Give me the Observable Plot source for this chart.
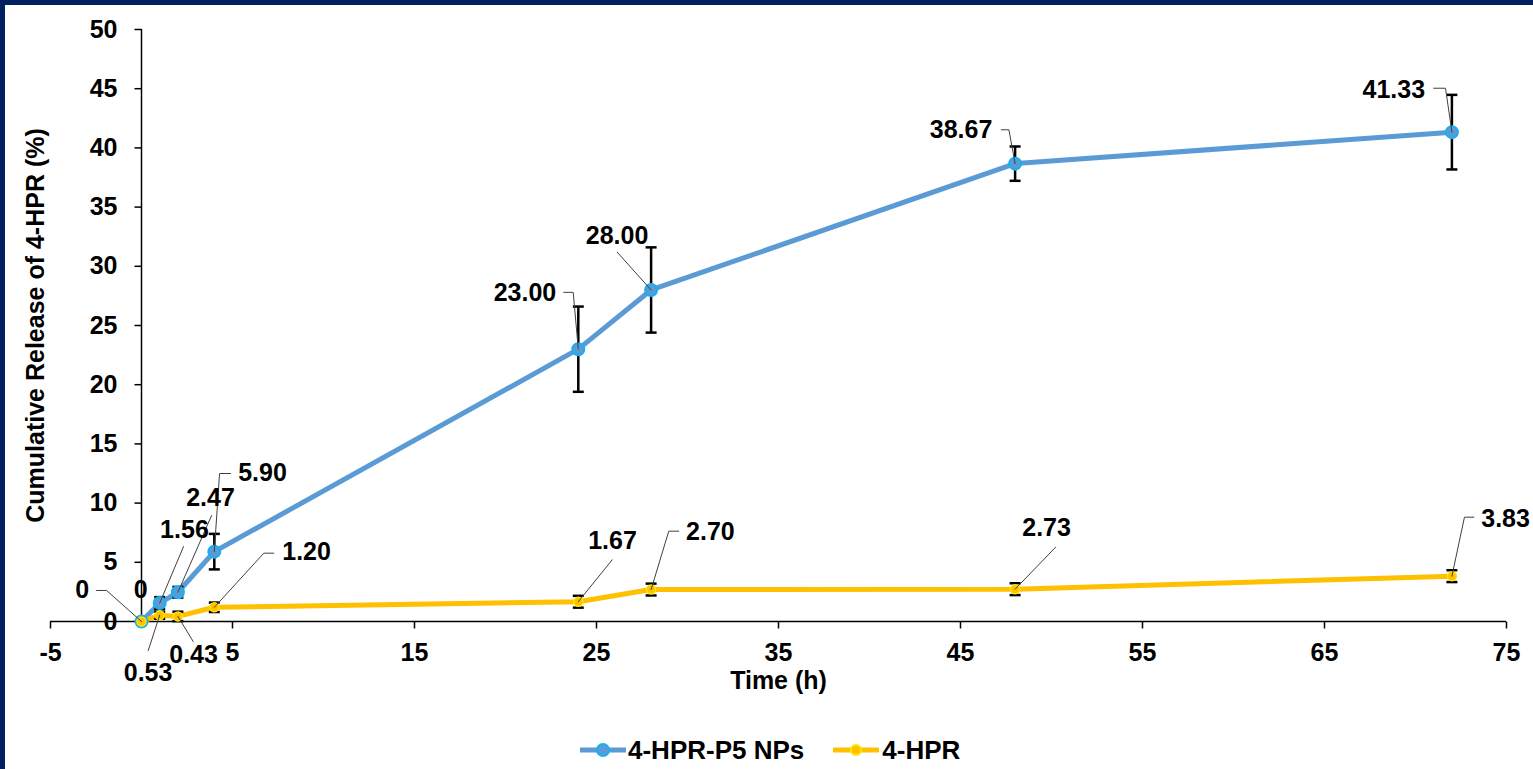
<!DOCTYPE html>
<html>
<head>
<meta charset="utf-8">
<script src="https://cdn.jsdelivr.net/npm/d3@7"></script>
<script src="https://cdn.jsdelivr.net/npm/@observablehq/plot@0.6"></script>
<style>
  html, body { margin: 0; padding: 0; background: #ffffff; }
  body { width: 1533px; height: 769px; overflow: hidden; position: relative;
         font-family: "Liberation Sans", Arial, sans-serif; }
  #chart { position: absolute; left: 0; top: 0; }
  .bt { position: absolute; left: 0; top: 0; width: 1533px; height: 5px; background: #002060; z-index: 5; }
  .bl { position: absolute; left: 0; top: 0; width: 5px; height: 769px; background: #002060; z-index: 5; }
  #legend { position: absolute; left: 580px; top: 735px; height: 30px; display: flex; align-items: center;
            font: bold 26px "Liberation Sans", Arial, sans-serif; color: #000; white-space: nowrap; }
  #legend .item { display: flex; align-items: center; }
  #legend svg { display: block; }
</style>
</head>
<body>
<div id="chart"></div>
<div id="legend"></div>
<div class="bt"></div>
<div class="bl"></div>
<script>
// ---- data ----
const times = [0, 1, 2, 4, 24, 28, 48, 72];
const seriesNames = ["4-HPR-P5 NPs", "4-HPR"];
const npValues = [0, 1.56, 2.47, 5.90, 23.00, 28.00, 38.67, 41.33];
const npErrors = [0, 0.5, 0.45, 1.5, 3.6, 3.6, 1.45, 3.15];
const freeValues = [0, 0.53, 0.43, 1.20, 1.67, 2.70, 2.73, 3.83];
const freeErrors = [0, 0.3, 0.4, 0.4, 0.5, 0.5, 0.5, 0.5];
const npLabels = ["0", "1.56", "2.47", "5.90", "23.00", "28.00", "38.67", "41.33"];
const freeLabels = ["0", "0.53", "0.43", "1.20", "1.67", "2.70", "2.73", "3.83"];
const xTicks = [-5, 5, 15, 25, 35, 45, 55, 65, 75];
const yTicks = [0, 5, 10, 15, 20, 25, 30, 35, 40, 45, 50];

// ---- data-label annotation anchors (data units) ----
const npLabelX = [-0.05, 2.36, 3.79, 6.65, 21.07, 26.13, 45.03, 68.81];
const npLabelY = [2.62, 7.77, 10.47, 12.58, 27.75, 32.6, 41.55, 44.92];
const npLeaders = [[], [[2.31, 6.33]], [[3.85, 8.95]], [[4.89, 12.5], [4.29, 12.5]],
  [[23.2, 27.8], [23.72, 27.8]], [[26.14, 31.19]], [[47.24, 41.53], [47.66, 41.53]], [[71.0, 45.04], [71.65, 45.04]]];
const freeLabelX = [-3.26, 0.36, 2.86, 9.07, 25.88, 31.26, 49.73, 74.95];
const freeLabelY = [2.62, -4.39, -2.87, 5.83, 6.84, 7.6, 7.87, 8.66];
const freeLeaders = [[[-2.47, 2.62], [-1.92, 2.62]], [[0.37, -2.45]], [[2.84, -1.69]], [[7.27, 5.77], [6.72, 5.77]],
  [[25.86, 5.21]], [[29.52, 7.63], [28.97, 7.63]], [[50.23, 6.28]], [[73.21, 8.81], [72.69, 8.81]]];

// ---- build tables ----
function table(values, errors, labels, lx, ly) {
  return times.map((t, i) => ({t, v: values[i], e: errors[i], label: labels[i], lx: lx[i], ly: ly[i]}));
}
const np = table(npValues, npErrors, npLabels, npLabelX, npLabelY);
const free = table(freeValues, freeErrors, freeLabels, freeLabelX, freeLabelY);
const leaderRows = [];
[[np, npLeaders, "n"], [free, freeLeaders, "f"]].forEach(([rows, leaders, key]) => {
  rows.forEach((d, i) => {
    if (!leaders[i].length) return;
    leaders[i].forEach(([x, y]) => leaderRows.push({id: key + i, x, y}));
    leaderRows.push({id: key + i, x: d.t, y: d.v});
  });
});
const errRows = [...np, ...free].filter(d => d.e > 0);
const capRows = errRows.flatMap(d => [{t: d.t, y: d.v - d.e}, {t: d.t, y: d.v + d.e}]);

const capSym = {draw(ctx) { ctx.moveTo(-5.5, 0); ctx.lineTo(5.5, 0); }};
const yTickSym = {draw(ctx) { ctx.moveTo(-7, 0); ctx.lineTo(0, 0); }};
const xTickSym = {draw(ctx) { ctx.moveTo(0, 0); ctx.lineTo(0, 7); }};

const BLUE = "#5B9BD5", BLUE_EDGE = "#19B0EE", GOLD = "#FFC000", GOLD_EDGE = "#FFE600";

const chart = Plot.plot({
  width: 1533,
  height: 700,
  marginLeft: 50,
  marginRight: 27,
  marginTop: 29,
  marginBottom: 79,
  x: {domain: [-5, 75], axis: null},
  y: {domain: [0, 50], axis: null},
  style: {background: "transparent", fontFamily: "'Liberation Sans', Arial, sans-serif",
          fontSize: "25px", fontWeight: "bold", color: "#000", overflow: "visible"},
  marks: [
    // x axis
    Plot.ruleY([0], {x1: xTicks[0], x2: xTicks[xTicks.length - 1], stroke: "#000", strokeWidth: 1.5}),
    Plot.dot(xTicks, {x: d => d, y: 0, symbol: xTickSym, fill: "none", stroke: "#000", strokeWidth: 1.5}),
    Plot.text(xTicks, {x: d => d, y: 0, text: d => String(d), dy: 31, fill: "#000"}),
    // y axis at x = 0
    Plot.ruleX([0], {y1: yTicks[0], y2: yTicks[yTicks.length - 1], stroke: "#000", strokeWidth: 1.5}),
    Plot.dot(yTicks, {x: 0, y: d => d, symbol: yTickSym, fill: "none", stroke: "#000", strokeWidth: 1.5}),
    Plot.text(yTicks, {x: 0, y: d => d, text: d => String(d), dx: -24, textAnchor: "end", fill: "#000"}),
    // axis titles
    Plot.text(["Cumulative Release of 4-HPR (%)"], {frameAnchor: "left", textAnchor: "middle", rotate: -90, dx: -15, fill: "#000"}),
    Plot.text(["Time (h)"], {frameAnchor: "bottom", dy: 67, fill: "#000"}),
    // series lines
    Plot.line(np, {x: "t", y: "v", stroke: BLUE, strokeWidth: 5}),
    Plot.line(free, {x: "t", y: "v", stroke: GOLD, strokeWidth: 5}),
    // error bars
    Plot.ruleX(errRows, {x: "t", y1: d => d.v - d.e, y2: d => d.v + d.e, stroke: "#000", strokeWidth: 2.5}),
    Plot.dot(capRows, {x: "t", y: "y", symbol: capSym, fill: "none", stroke: "#000", strokeWidth: 2.5}),
    // markers
    Plot.dot(np, {x: "t", y: "v", r: 6, fill: BLUE, stroke: BLUE_EDGE, strokeWidth: 2}),
    Plot.dot(free, {x: "t", y: "v", r: 4.5, fill: GOLD, stroke: GOLD_EDGE, strokeWidth: 1.5}),
    // leader lines
    Plot.line(leaderRows, {x: "x", y: "y", z: "id", stroke: "#404040", strokeWidth: 1}),
    // data labels
    Plot.text([...np, ...free], {x: "lx", y: "ly", text: "label", fill: "#000"})
  ]
});
document.getElementById("chart").appendChild(chart);

// ---- legend ----
const legend = document.getElementById("legend");
const legendItems = [
  {name: seriesNames[0], color: BLUE, edge: BLUE_EDGE, r: 6, gap: 2, after: 29},
  {name: seriesNames[1], color: GOLD, edge: GOLD_EDGE, r: 5, gap: 3, after: 0}
];
legendItems.forEach(it => {
  const item = document.createElement("div");
  item.className = "item";
  item.style.marginRight = it.after + "px";
  item.innerHTML = `<svg width="46" height="16" style="margin-right:${it.gap}px">
      <line x1="0" x2="46" y1="8" y2="8" stroke="${it.color}" stroke-width="5"/>
      <circle cx="23" cy="8" r="${it.r}" fill="${it.color}" stroke="${it.edge}" stroke-width="2"/>
    </svg><span>${it.name}</span>`;
  legend.appendChild(item);
});
</script>
</body>
</html>
